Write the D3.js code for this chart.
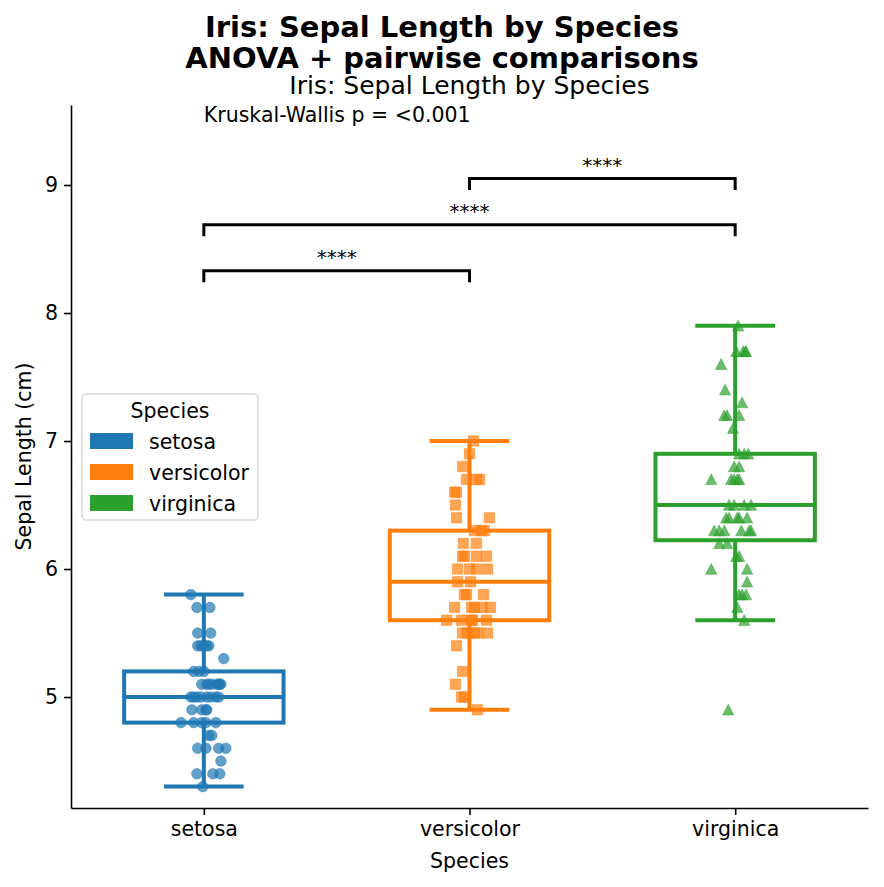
<!DOCTYPE html>
<html>
<head>
<meta charset="utf-8">
<script src="https://cdn.jsdelivr.net/npm/d3@7"></script>
<style>
  body { margin: 0; background: #fff; }
  text { font-family: "DejaVu Sans", sans-serif; fill: #000; }
</style>
</head>
<body>
<div id="chart"></div>
<script>
(function() {
    var width = 884,
        height = 887;

    var species = ["setosa", "versicolor", "virginica"];
    var colors = ["#1f77b4", "#ff7f0e", "#2ca02c"];

    // sepal lengths (cm), with the horizontal jitter (category units) used for each point
    var setosaValues = [5.8, 5.7, 5.7, 5.5, 5.5, 5.4, 5.4, 5.4, 5.4, 5.4, 5.3, 5.2, 5.2, 5.2,
        5.1, 5.1, 5.1, 5.1, 5.1, 5.1, 5.1, 5.1, 5.0, 5.0, 5.0, 5.0, 5.0, 5.0, 5.0, 5.0,
        4.9, 4.9, 4.9, 4.9, 4.8, 4.8, 4.8, 4.8, 4.8, 4.7, 4.7, 4.6, 4.6, 4.6, 4.6, 4.5,
        4.4, 4.4, 4.4, 4.3];
    var setosaJitter = [-0.049, -0.026, 0.023, -0.023, 0.026, -0.023, -0.011, 0, 0.011, 0.019, 0.075,
        -0.038, -0.019, 0, -0.008, 0.011, 0.019, 0.030, 0.049, 0.056, 0.060, 0.064,
        -0.049, -0.038, -0.026, -0.011, 0.011, 0.026, 0.045, 0.056, -0.045, -0.008, 0.008, 0.011,
        -0.086, -0.038, -0.008, 0.008, 0.045, 0.019, 0.030, -0.023, 0.008, 0.056, 0.083, 0.064,
        -0.026, 0.034, 0.060, -0.004];

    var versicolorValues = [7.0, 6.9, 6.8, 6.7, 6.7, 6.7, 6.6, 6.6, 6.5, 6.4, 6.4, 6.3, 6.3, 6.3,
        6.2, 6.2, 6.1, 6.1, 6.1, 6.1, 6.0, 6.0, 6.0, 6.0, 5.9, 5.9, 5.8, 5.8, 5.8,
        5.7, 5.7, 5.7, 5.7, 5.7, 5.6, 5.6, 5.6, 5.6, 5.6, 5.5, 5.5, 5.5, 5.5, 5.5,
        5.4, 5.2, 5.1, 5.0, 5.0, 4.9];
    var versicolorJitter = [0.015, 0, -0.026, -0.011, 0.026, 0.038, -0.056, -0.049, -0.053, -0.049, 0.075,
        0.019, 0.045, 0.056, -0.023, 0.026, -0.026, -0.019, 0.026, 0.064, -0.045, 0, 0.026, 0.068,
        -0.045, 0.004, -0.019, -0.011, 0.053, -0.056, 0.008, 0.019, 0.049, 0.079,
        -0.086, -0.030, 0.008, 0.011, 0.064, -0.026, -0.008, 0.019, 0.030, 0.068,
        -0.049, -0.026, -0.053, -0.030, -0.019, 0.030];

    var virginicaValues = [7.9, 7.7, 7.7, 7.7, 7.7, 7.6, 7.4, 7.3, 7.2, 7.2, 7.2, 7.1, 6.9, 6.9, 6.9,
        6.8, 6.8, 6.7, 6.7, 6.7, 6.7, 6.7, 6.5, 6.5, 6.5, 6.5, 6.4, 6.4, 6.4, 6.4, 6.4,
        6.3, 6.3, 6.3, 6.3, 6.3, 6.3, 6.2, 6.2, 6.1, 6.1, 6.0, 6.0, 5.9, 5.8, 5.8, 5.8,
        5.7, 5.6, 4.9];
    var virginicaJitter = [0.011, 0.004, 0.030, 0.038, 0.041, -0.053, -0.038, 0.026, -0.041, -0.030, 0.015,
        -0.008, 0.015, 0.034, 0.049, -0.004, 0.015, -0.090, -0.015, -0.004, 0.008, 0.015,
        -0.023, -0.004, 0.034, 0.060, -0.034, -0.023, 0.008, 0.015, 0.045,
        -0.079, -0.060, -0.041, 0.023, 0.053, 0.060, -0.060, -0.030, 0.004, 0.015, -0.090, 0.045,
        0.045, 0.015, 0.026, 0.041, 0.008, 0.034, -0.026];

    var groupValues = [setosaValues, versicolorValues, virginicaValues];
    var groupJitter = [setosaJitter, versicolorJitter, virginicaJitter];

    var yTicks = [5, 6, 7, 8, 9];
    var comparisons = [
        { a: 0, b: 1, y: 8.33, label: "****" },
        { a: 0, b: 2, y: 8.69, label: "****" },
        { a: 1, b: 2, y: 9.05, label: "****" }
    ];

    var margin = { left: 71, right: 16, top: 105, bottom: 79 };

    var svg = d3.select("#chart")
        .append("svg")
        .attr("width", width)
        .attr("height", height);

    var x = d3.scaleLinear()
        .domain([-0.5, 2.5])
        .range([margin.left, width - margin.right]);

    var y = d3.scaleLinear()
        .domain([4.133, 9.625])
        .range([height - margin.bottom, margin.top]);

    var step = x(1) - x(0);

    // titles
    svg.append("text")
        .attr("x", width / 2).attr("y", 37)
        .attr("text-anchor", "middle")
        .style("font-size", "29px").style("font-weight", "bold")
        .text("Iris: Sepal Length by Species");
    svg.append("text")
        .attr("x", width / 2).attr("y", 68)
        .attr("text-anchor", "middle")
        .style("font-size", "29px").style("font-weight", "bold")
        .text("ANOVA + pairwise comparisons");
    svg.append("text")
        .attr("x", x(1)).attr("y", 94)
        .attr("text-anchor", "middle")
        .style("font-size", "25px")
        .text("Iris: Sepal Length by Species");

    // points
    function markerPath(i) {
        if (i == 0) {
            return d3.symbol().type(d3.symbolCircle).size(Math.PI * 5.3 * 5.3)();
        } else if (i == 1) {
            return "M-5.2,-5.2H5.2V5.2H-5.2Z";
        } else {
            return "M0,-5.6L5.6,5.2L-5.6,5.2Z";
        }
    }

    groupValues.forEach(function(vals, i) {
        var g = svg.append("g").attr("class", "points-" + species[i]);
        g.selectAll("path")
            .data(vals.map(function(v, k) { return { v: v, j: groupJitter[i][k] }; }))
            .enter().append("path")
            .attr("d", markerPath(i))
            .attr("transform", function(d) {
                return "translate(" + x(i + d.j) + "," + y(d.v) + ")";
            })
            .attr("fill", colors[i])
            .attr("fill-opacity", 0.7)
            .attr("stroke", colors[i])
            .attr("stroke-opacity", 0.45)
            .attr("stroke-width", 1);
    });

    // boxes
    groupValues.forEach(function(vals, i) {
        var sorted = vals.slice().sort(d3.ascending);
        var q1 = d3.quantile(sorted, 0.25),
            med = d3.quantile(sorted, 0.5),
            q3 = d3.quantile(sorted, 0.75),
            iqr = q3 - q1;
        var lo = d3.min(sorted.filter(function(v) { return v >= q1 - 1.5 * iqr; }));
        var hi = d3.max(sorted.filter(function(v) { return v <= q3 + 1.5 * iqr; }));
        var cx = x(i),
            bw = step * 0.6;
        var g = svg.append("g")
            .attr("stroke", colors[i])
            .attr("stroke-width", 4)
            .attr("fill", "none");
        g.append("line").attr("x1", cx).attr("x2", cx).attr("y1", y(q1)).attr("y2", y(lo));
        g.append("line").attr("x1", cx).attr("x2", cx).attr("y1", y(q3)).attr("y2", y(hi));
        g.append("line").attr("x1", cx - bw / 4).attr("x2", cx + bw / 4).attr("y1", y(lo)).attr("y2", y(lo));
        g.append("line").attr("x1", cx - bw / 4).attr("x2", cx + bw / 4).attr("y1", y(hi)).attr("y2", y(hi));
        g.append("rect")
            .attr("x", cx - bw / 2).attr("width", bw)
            .attr("y", y(q3)).attr("height", y(q1) - y(q3));
        g.append("line").attr("x1", cx - bw / 2).attr("x2", cx + bw / 2).attr("y1", y(med)).attr("y2", y(med));
    });

    // significance brackets
    var tick = 0.09;
    comparisons.forEach(function(c) {
        svg.append("path")
            .attr("d", "M" + x(c.a) + "," + y(c.y - tick) +
                "V" + y(c.y) + "H" + x(c.b) + "V" + y(c.y - tick))
            .attr("fill", "none")
            .attr("stroke", "#000")
            .attr("stroke-width", 3);
        svg.append("text")
            .attr("x", (x(c.a) + x(c.b)) / 2)
            .attr("y", y(c.y) - 7)
            .attr("text-anchor", "middle")
            .style("font-size", "20px")
            .text(c.label);
    });

    svg.append("text")
        .attr("x", x(0)).attr("y", y(9.5) + 1)
        .style("font-size", "20.5px")
        .text("Kruskal-Wallis p = <0.001");

    // axes
    var xAxis = svg.append("g")
        .attr("transform", "translate(0," + (height - margin.bottom) + ")")
        .call(d3.axisBottom(x).tickValues([0, 1, 2])
            .tickFormat(function(d) { return species[d]; })
            .tickSize(7).tickPadding(6).tickSizeOuter(0));
    var yAxis = svg.append("g")
        .attr("transform", "translate(" + margin.left + ",0)")
        .call(d3.axisLeft(y).tickValues(yTicks)
            .tickFormat(d3.format("d"))
            .tickSize(7).tickPadding(6).tickSizeOuter(0));

    [xAxis, yAxis].forEach(function(a) {
        a.selectAll("path, line").attr("stroke", "#000").attr("stroke-width", 1.6);
        a.selectAll("text")
            .style("font-family", "DejaVu Sans, sans-serif")
            .style("font-size", "20.5px")
            .attr("fill", "#000");
    });

    svg.append("text")
        .attr("x", x(1)).attr("y", 868)
        .attr("text-anchor", "middle")
        .style("font-size", "20.5px")
        .text("Species");
    svg.append("text")
        .attr("transform", "translate(31," + ((margin.top + height - margin.bottom) / 2) + ") rotate(-90)")
        .attr("text-anchor", "middle")
        .style("font-size", "20.5px")
        .text("Sepal Length (cm)");

    // legend
    var legend = svg.append("g").attr("transform", "translate(82,394)");
    legend.append("rect")
        .attr("width", 176).attr("height", 126)
        .attr("rx", 4)
        .attr("fill", "#fff").attr("fill-opacity", 0.8)
        .attr("stroke", "#d6d6d6").attr("stroke-width", 1.5);
    legend.append("text")
        .attr("x", 88).attr("y", 24)
        .attr("text-anchor", "middle")
        .style("font-size", "20.5px")
        .text("Species");
    species.forEach(function(s, i) {
        legend.append("rect")
            .attr("x", 8).attr("y", 39 + i * 31)
            .attr("width", 43).attr("height", 16)
            .attr("fill", colors[i]);
        legend.append("text")
            .attr("x", 67).attr("y", 55 + i * 31)
            .style("font-size", "20.5px")
            .text(s);
    });
})();
</script>
</body>
</html>
